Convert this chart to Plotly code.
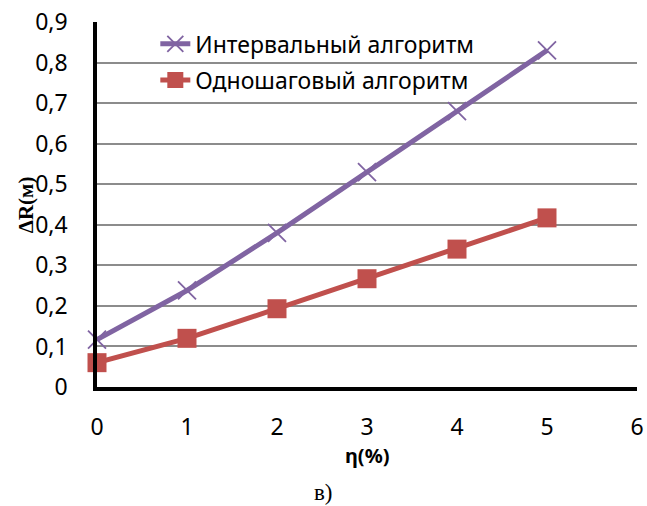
import plotly.graph_objects as go

x_vals = [0, 1, 2, 3, 4, 5]
interval = [0.117, 0.238, 0.38, 0.53, 0.68, 0.83]
onestep = [0.06, 0.12, 0.193, 0.267, 0.34, 0.417]
names = ["Интервальный алгоритм", "Одношаговый алгоритм"]
y_ticks = [0, 0.1, 0.2, 0.3, 0.4, 0.5, 0.6, 0.7, 0.8, 0.9]
y_ticktext = ["0", "0,1", "0,2", "0,3", "0,4", "0,5", "0,6", "0,7", "0,8", "0,9"]
x_ticks = [0, 1, 2, 3, 4, 5, 6]

purple = "#8064A2"
red = "#C0504D"

fig = go.Figure()
fig.add_trace(go.Scatter(
    x=x_vals, y=interval, name=names[0], mode="lines+markers",
    line=dict(color=purple, width=5),
    marker=dict(symbol="x-thin-open", size=18, line=dict(color=purple, width=1.8), color=purple),
    legend="legend", cliponaxis=False))
fig.add_trace(go.Scatter(
    x=x_vals, y=onestep, name=names[1], mode="lines+markers",
    line=dict(color=red, width=5),
    marker=dict(symbol="square", size=19, color=red),
    legend="legend2", cliponaxis=False))

fnt = dict(family="Noto Sans, Open Sans, sans-serif", size=23, color="black")

fig.update_layout(
    width=647, height=506,
    margin=dict(l=97, r=10, t=22, b=119, autoexpand=False),
    plot_bgcolor="white", paper_bgcolor="white",
    font=fnt,
    showlegend=True,
    legend=dict(x=0.108, y=0.94, xanchor="left", yanchor="middle", bgcolor="rgba(0,0,0,0)",
                font=fnt),
    legend2=dict(x=0.108, y=0.841, xanchor="left", yanchor="middle", bgcolor="rgba(0,0,0,0)",
                 font=fnt),
    xaxis=dict(range=[0, 6], tickvals=x_ticks, showgrid=False, zeroline=False,
               showline=True, linecolor="black", linewidth=4, ticks="",
               ticklabelstandoff=16, tickfont=fnt),
    yaxis=dict(range=[0, 0.9], tickvals=y_ticks, ticktext=y_ticktext,
               showgrid=True, gridcolor="#8C8C8C", gridwidth=2, zeroline=False,
               showline=True, linecolor="black", linewidth=3.5, ticks="",
               ticklabelstandoff=21, tickfont=fnt),
    annotations=[
        dict(text="<b>ΔR(м)</b>", xref="paper", yref="paper", x=-0.132, y=0.5,
             xanchor="center", yanchor="middle", showarrow=False, textangle=-90,
             font=dict(family="Liberation Serif, serif", size=21, color="black")),
        dict(text="<b>η(%)</b>", xref="paper", yref="paper", x=0.5, y=0,
             xanchor="center", yanchor="middle", showarrow=False, yshift=-68,
             font=dict(family="Noto Sans, sans-serif", size=20, color="black")),
        dict(text="в)", xref="paper", yref="paper", x=0.42, y=0,
             xanchor="center", yanchor="middle", showarrow=False, yshift=-105,
             font=dict(family="Liberation Serif, serif", size=23, color="black")),
    ],
)
fig.write_html("out.html")
